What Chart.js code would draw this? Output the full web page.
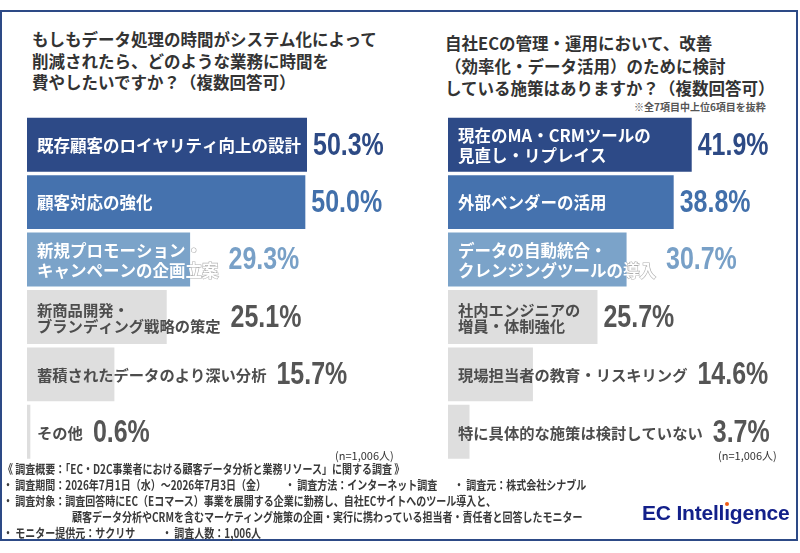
<!DOCTYPE html>
<html lang="ja">
<head>
<meta charset="utf-8">
<script src="https://cdn.jsdelivr.net/npm/chart.js@4.4.1/dist/chart.umd.min.js"></script>
<style>
  html, body { margin: 0; padding: 0; background: #ffffff; }
  body { width: 800px; height: 553px; position: relative; overflow: hidden; font-family: "Noto Sans CJK JP", "Noto Sans", sans-serif; }
  .frame { position: absolute; left: 0; top: 10px; width: 798px; height: 531px; border: 2.5px solid #2d4a86; box-sizing: border-box; }
  .title { position: absolute; font-size: 16.5px; font-weight: bold; color: #333333; white-space: nowrap; }
  #titleL { left: 32px; top: 29px; line-height: 21.5px; }
  #titleR { left: 445px; top: 32px; line-height: 22.5px; }
  .note { position: absolute; left: 634px; top: 100px; font-size: 10px; line-height: 14px; font-weight: bold; color: #555555; white-space: nowrap; }
  .n { position: absolute; font-size: 11px; line-height: 14px; color: #333333; white-space: nowrap; }
  canvas { position: absolute; }
  #chartL { left: 0; top: 105px; }
  #chartR { left: 400px; top: 105px; }
  .f { position: absolute; font-size: 12.5px; line-height: 16px; font-weight: bold; color: #3a3a3a; white-space: nowrap; transform: scaleX(0.8); transform-origin: left center; }
  .logo { position: absolute; left: 642px; top: 502px; font-family: "Liberation Sans", Arial, sans-serif; font-weight: bold; font-size: 21px; line-height: 21px; color: #13208a; white-space: nowrap; letter-spacing: -0.2px; }
  .logo .i { position: relative; }
  .logo .dot { position: absolute; left: 50%; top: 1px; width: 4px; height: 4px; margin-left: -2px; border-radius: 50%; background: #f05a14; }
</style>
</head>
<body>
<div class="frame"></div>
<div class="title" id="titleL">もしもデータ処理の時間がシステム化によって<br>削減されたら、どのような業務に時間を<br>費やしたいですか？（複数回答可）</div>
<div class="title" id="titleR">自社ECの管理・運用において、改善<br>（効率化・データ活用）のために検討<br>している施策はありますか？（複数回答可）</div>
<div class="note">※全7項目中上位6項目を抜粋</div>

<canvas id="chartL" width="400" height="365"></canvas>
<canvas id="chartR" width="400" height="365"></canvas>

<div class="n" style="left:335px; top:448px;">(n=1,006人)</div>
<div class="n" style="left:718px; top:448px;">(n=1,006人)</div>

<div class="f" style="left:3px; top:461px;">《 調査概要：「EC・D2C事業者における顧客データ分析と業務リソース」に関する調査 》</div>
<div class="f" style="left:3px; top:477px;">・ 調査期間：2026年7月1日（水）～2026年7月3日（金）</div>
<div class="f" style="left:285px; top:477px;">・ 調査方法：インターネット調査</div>
<div class="f" style="left:454px; top:477px;">・ 調査元：株式会社シナブル</div>
<div class="f" style="left:3px; top:493px;">・ 調査対象：調査回答時にEC（Eコマース）事業を展開する企業に勤務し、自社ECサイトへのツール導入と、</div>
<div class="f" style="left:72px; top:509px;">顧客データ分析やCRMを含むマーケティング施策の企画・実行に携わっている担当者・責任者と回答したモニター</div>
<div class="f" style="left:3px; top:525px;">・ モニター提供元：サクリサ</div>
<div class="f" style="left:162px; top:525px;">・ 調査人数：1,006人</div>

<div class="logo">EC Intell<span class="i">ı<span class="dot"></span></span>gence</div>

<script>
// ---- data ----
const leftCategories = [
  "既存顧客のロイヤリティ向上の設計",
  "顧客対応の強化",
  "新規プロモーション・\nキャンペーンの企画立案",
  "新商品開発・\nブランディング戦略の策定",
  "蓄積されたデータのより深い分析",
  "その他"
];
const leftValues = [50.3, 50.0, 29.3, 25.1, 15.7, 0.6];

const rightCategories = [
  "現在のMA・CRMツールの\n見直し・リプレイス",
  "外部ベンダーの活用",
  "データの自動統合・\nクレンジングツールの導入",
  "社内エンジニアの\n増員・体制強化",
  "現場担当者の教育・リスキリング",
  "特に具体的な施策は検討していない"
];
const rightValues = [41.9, 38.8, 30.7, 25.7, 14.6, 3.7];

const axisMax = 60;

// ---- styles ----
const barColors = ['#2d4a87', '#4572ae', '#7ba3c9', '#dedede', '#dedede', '#dedede'];
const valueColors = ['#2d4a85', '#4270ab', '#78a0c7', '#555555', '#555555', '#555555'];
const labelColors = ['#ffffff', '#ffffff', '#ffffff', '#4d4d4d', '#4d4d4d', '#4d4d4d'];
const valueScaleX = 0.78;

const barLabelPlugin = {
  id: 'barLabels',
  afterDatasetsDraw(chart) {
    const ctx = chart.ctx;
    const meta = chart.getDatasetMeta(0);
    const values = chart.data.datasets[0].data;
    meta.data.forEach((bar, i) => {
      const lines = String(chart.data.labels[i]).split('\n');
      const blue = i < 3;
      const fs = blue ? 16.5 : 15.3;
      const lh = blue ? 20.5 : 16.5;
      const x0 = bar.base + 10;
      ctx.save();
      ctx.font = 'bold ' + fs + 'px "Noto Sans CJK JP"';
      ctx.textBaseline = 'middle';
      ctx.textAlign = 'left';
      let maxW = 0;
      lines.forEach((ln, k) => {
        const y = bar.y + (k - (lines.length - 1) / 2) * lh + 1;
        const w = ctx.measureText(ln).width;
        maxW = Math.max(maxW, w);
        if (blue && x0 + w > bar.x) {
          ctx.save();
          ctx.beginPath();
          ctx.rect(bar.x, bar.y - 40, 400, 80);
          ctx.clip();
          ctx.strokeStyle = 'rgba(110,110,110,0.55)';
          ctx.lineWidth = 1.2;
          ctx.strokeText(ln, x0, y);
          ctx.restore();
        }
        ctx.fillStyle = labelColors[i];
        ctx.fillText(ln, x0, y);
      });
      const vx = Math.max(bar.x + 6, x0 + maxW + 10);
      ctx.font = 'bold 32px "Liberation Sans", Arial, sans-serif';
      ctx.fillStyle = valueColors[i];
      ctx.translate(vx, bar.y + 1);
      ctx.scale(valueScaleX, 1);
      ctx.fillText(values[i].toFixed(1) + '%', 0, 0);
      ctx.restore();
    });
  }
};

function makeChart(id, labels, values, padLeft, padRight) {
  return new Chart(document.getElementById(id), {
    type: 'bar',
    data: {
      labels: labels,
      datasets: [{
        data: values,
        backgroundColor: barColors,
        borderWidth: 0,
        barPercentage: 0.94,
        categoryPercentage: 1.0
      }]
    },
    options: {
      indexAxis: 'y',
      responsive: false,
      animation: false,
      devicePixelRatio: 1,
      layout: { padding: { left: padLeft, right: padRight, top: 11, bottom: 9.5 } },
      plugins: { legend: { display: false }, tooltip: { enabled: false }, title: { display: false } },
      scales: {
        x: { display: false, min: 0, max: axisMax, grid: { display: false } },
        y: { display: false, grid: { display: false } }
      }
    },
    plugins: [barLabelPlugin]
  });
}

const charts = [
  makeChart('chartL', leftCategories, leftValues, 27, 39),
  makeChart('chartR', rightCategories, rightValues, 48, 3)
];

Promise.all([
  document.fonts.load('bold 16px "Noto Sans CJK JP"'),
  document.fonts.load('bold 32px "Liberation Sans"')
]).then(() => charts.forEach(c => c.update())).catch(() => {});
</script>
</body>
</html>
